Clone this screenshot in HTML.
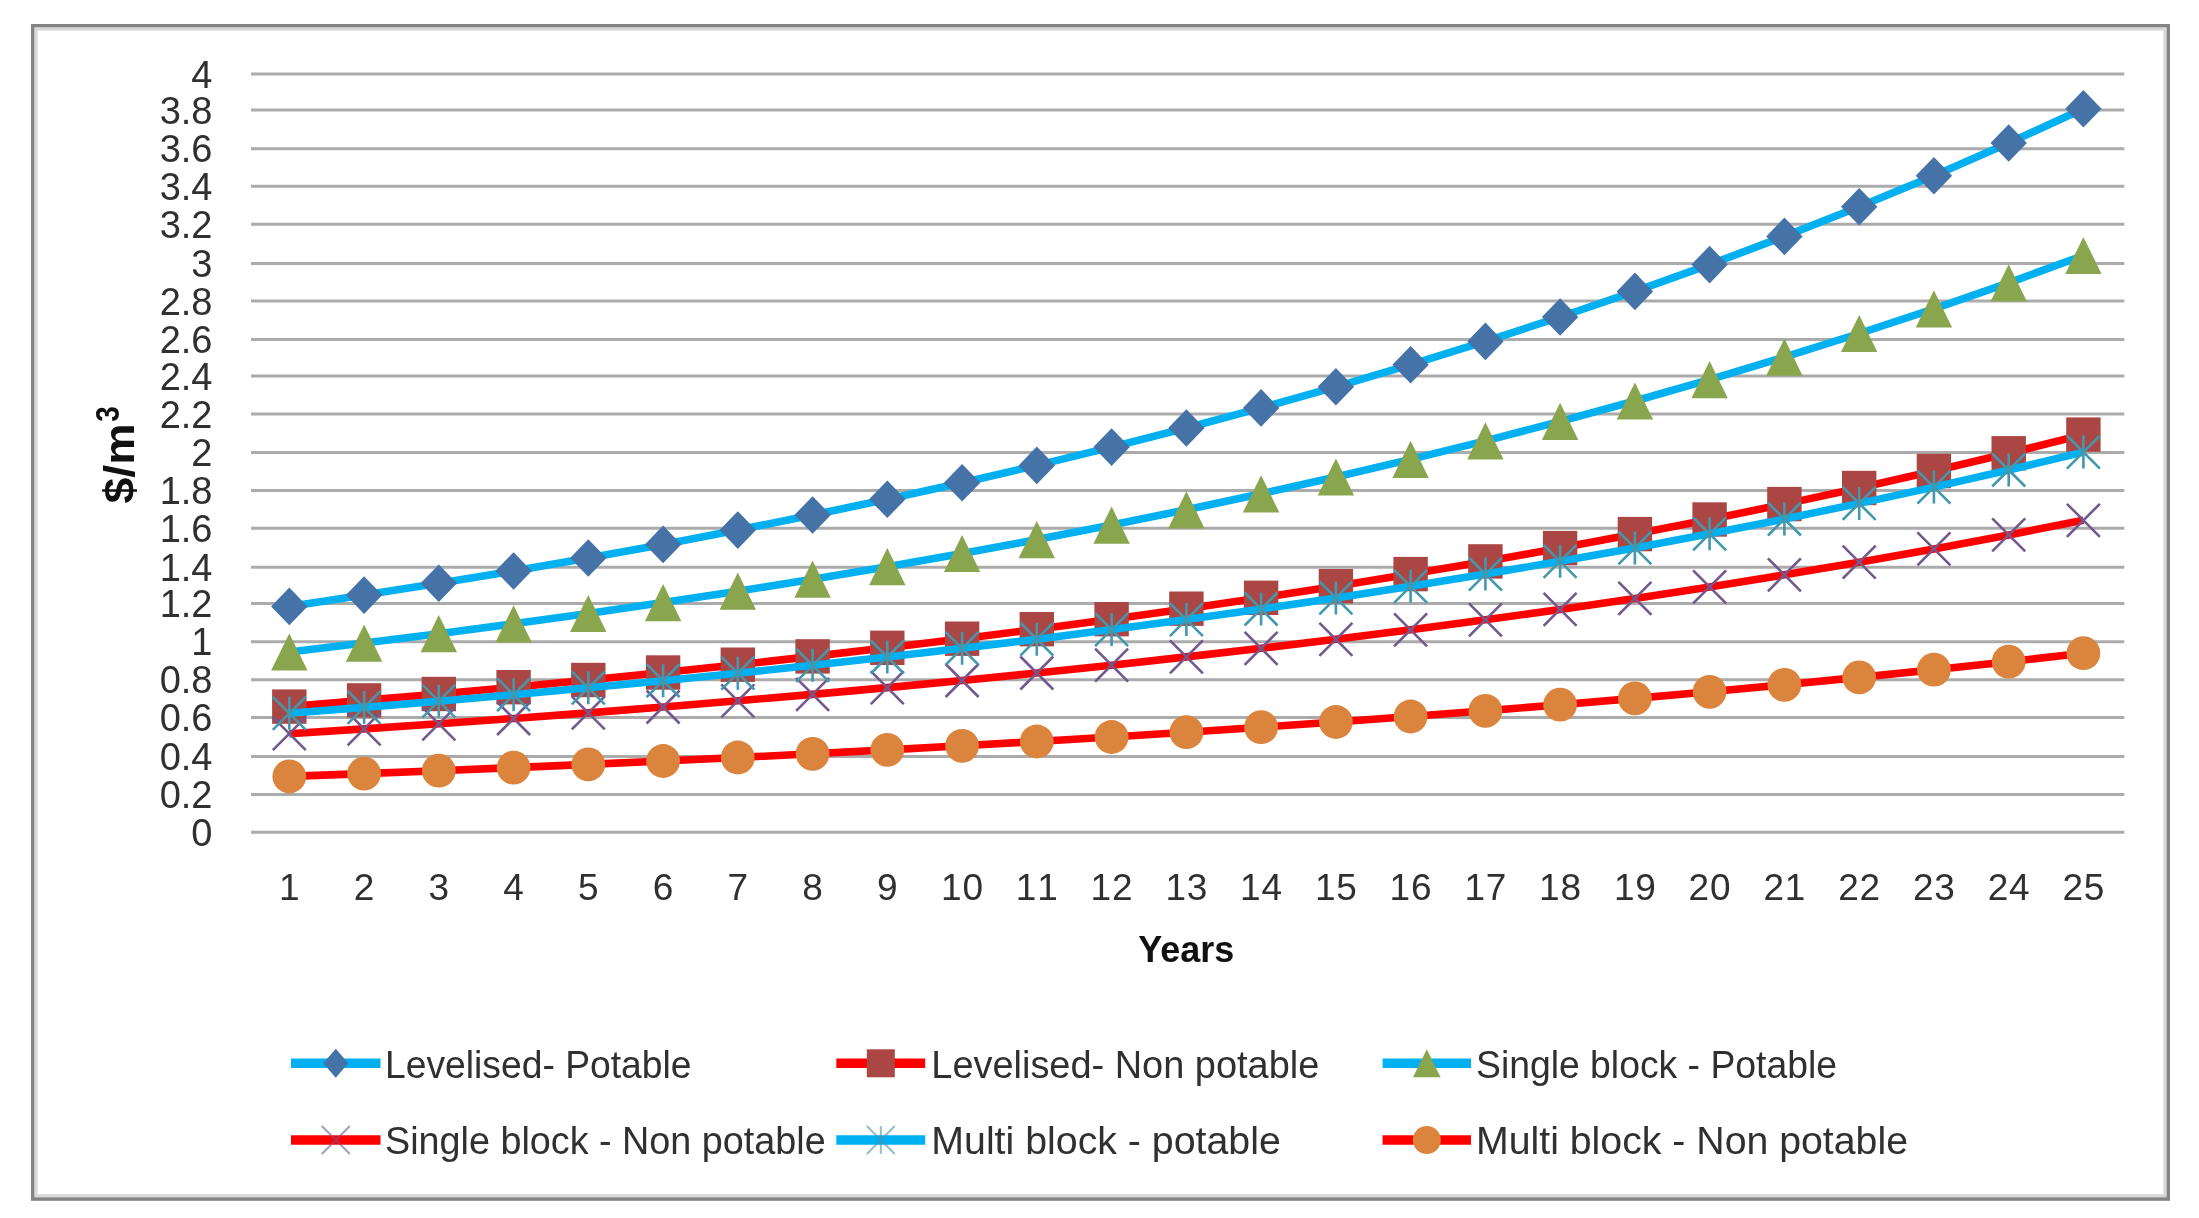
<!DOCTYPE html>
<html><head><meta charset="utf-8"><title>Chart</title>
<style>
html,body{margin:0;padding:0;background:#fff;}
svg{display:block;filter:blur(0.7px);}
text{font-family:"Liberation Sans",sans-serif;fill:#303030;}
.b{font-weight:bold;fill:#111;}
</style></head><body>
<svg width="2199" height="1218" viewBox="0 0 2199 1218">
<rect x="0" y="0" width="2199" height="1218" fill="#fff"/>
<rect x="32.8" y="25.8" width="2135.4" height="1173.2" fill="none" stroke="#848484" stroke-width="3.6"/>
<rect x="36.1" y="29.1" width="2128.8" height="1166.6" fill="none" stroke="#d8d8d8" stroke-width="3"/>

<line x1="251.0" y1="832.3" x2="2124.3" y2="832.3" stroke="#ababab" stroke-width="3"/>
<line x1="251.0" y1="794.4" x2="2124.3" y2="794.4" stroke="#ababab" stroke-width="3"/>
<line x1="251.0" y1="756.4" x2="2124.3" y2="756.4" stroke="#ababab" stroke-width="3"/>
<line x1="251.0" y1="717.6" x2="2124.3" y2="717.6" stroke="#ababab" stroke-width="3"/>
<line x1="251.0" y1="679.7" x2="2124.3" y2="679.7" stroke="#ababab" stroke-width="3"/>
<line x1="251.0" y1="641.7" x2="2124.3" y2="641.7" stroke="#ababab" stroke-width="3"/>
<line x1="251.0" y1="603.4" x2="2124.3" y2="603.4" stroke="#ababab" stroke-width="3"/>
<line x1="251.0" y1="567.3" x2="2124.3" y2="567.3" stroke="#ababab" stroke-width="3"/>
<line x1="251.0" y1="528.3" x2="2124.3" y2="528.3" stroke="#ababab" stroke-width="3"/>
<line x1="251.0" y1="490.6" x2="2124.3" y2="490.6" stroke="#ababab" stroke-width="3"/>
<line x1="251.0" y1="452.6" x2="2124.3" y2="452.6" stroke="#ababab" stroke-width="3"/>
<line x1="251.0" y1="413.9" x2="2124.3" y2="413.9" stroke="#ababab" stroke-width="3"/>
<line x1="251.0" y1="376.0" x2="2124.3" y2="376.0" stroke="#ababab" stroke-width="3"/>
<line x1="251.0" y1="339.5" x2="2124.3" y2="339.5" stroke="#ababab" stroke-width="3"/>
<line x1="251.0" y1="300.9" x2="2124.3" y2="300.9" stroke="#ababab" stroke-width="3"/>
<line x1="251.0" y1="263.5" x2="2124.3" y2="263.5" stroke="#ababab" stroke-width="3"/>
<line x1="251.0" y1="224.2" x2="2124.3" y2="224.2" stroke="#ababab" stroke-width="3"/>
<line x1="251.0" y1="186.3" x2="2124.3" y2="186.3" stroke="#ababab" stroke-width="3"/>
<line x1="251.0" y1="148.7" x2="2124.3" y2="148.7" stroke="#ababab" stroke-width="3"/>
<line x1="251.0" y1="110.1" x2="2124.3" y2="110.1" stroke="#ababab" stroke-width="3"/>
<line x1="251.0" y1="74.1" x2="2124.3" y2="74.1" stroke="#ababab" stroke-width="3"/>
<text x="212.5" y="845.9" font-size="38" text-anchor="end">0</text>
<text x="212.5" y="808.0" font-size="38" text-anchor="end">0.2</text>
<text x="212.5" y="770.0" font-size="38" text-anchor="end">0.4</text>
<text x="212.5" y="731.2" font-size="38" text-anchor="end">0.6</text>
<text x="212.5" y="693.3" font-size="38" text-anchor="end">0.8</text>
<text x="212.5" y="655.3" font-size="38" text-anchor="end">1</text>
<text x="212.5" y="617.0" font-size="38" text-anchor="end">1.2</text>
<text x="212.5" y="580.9" font-size="38" text-anchor="end">1.4</text>
<text x="212.5" y="541.9" font-size="38" text-anchor="end">1.6</text>
<text x="212.5" y="504.2" font-size="38" text-anchor="end">1.8</text>
<text x="212.5" y="466.2" font-size="38" text-anchor="end">2</text>
<text x="212.5" y="427.5" font-size="38" text-anchor="end">2.2</text>
<text x="212.5" y="389.6" font-size="38" text-anchor="end">2.4</text>
<text x="212.5" y="353.1" font-size="38" text-anchor="end">2.6</text>
<text x="212.5" y="314.5" font-size="38" text-anchor="end">2.8</text>
<text x="212.5" y="277.1" font-size="38" text-anchor="end">3</text>
<text x="212.5" y="237.8" font-size="38" text-anchor="end">3.2</text>
<text x="212.5" y="199.9" font-size="38" text-anchor="end">3.4</text>
<text x="212.5" y="162.3" font-size="38" text-anchor="end">3.6</text>
<text x="212.5" y="123.7" font-size="38" text-anchor="end">3.8</text>
<text x="212.5" y="87.7" font-size="38" text-anchor="end">4</text>
<text x="289.3" y="900.3" font-size="37" text-anchor="middle" style="font-kerning:none">1</text>
<text x="364.1" y="900.3" font-size="37" text-anchor="middle" style="font-kerning:none">2</text>
<text x="438.8" y="900.3" font-size="37" text-anchor="middle" style="font-kerning:none">3</text>
<text x="513.6" y="900.3" font-size="37" text-anchor="middle" style="font-kerning:none">4</text>
<text x="588.3" y="900.3" font-size="37" text-anchor="middle" style="font-kerning:none">5</text>
<text x="663.1" y="900.3" font-size="37" text-anchor="middle" style="font-kerning:none">6</text>
<text x="737.8" y="900.3" font-size="37" text-anchor="middle" style="font-kerning:none">7</text>
<text x="812.6" y="900.3" font-size="37" text-anchor="middle" style="font-kerning:none">8</text>
<text x="887.3" y="900.3" font-size="37" text-anchor="middle" style="font-kerning:none">9</text>
<text x="962.1" y="900.3" font-size="37" text-anchor="middle" style="font-kerning:none" textLength="42" lengthAdjust="spacing">10</text>
<text x="1036.8" y="900.3" font-size="37" text-anchor="middle" style="font-kerning:none" textLength="42" lengthAdjust="spacing">11</text>
<text x="1111.6" y="900.3" font-size="37" text-anchor="middle" style="font-kerning:none" textLength="42" lengthAdjust="spacing">12</text>
<text x="1186.4" y="900.3" font-size="37" text-anchor="middle" style="font-kerning:none" textLength="42" lengthAdjust="spacing">13</text>
<text x="1261.1" y="900.3" font-size="37" text-anchor="middle" style="font-kerning:none" textLength="42" lengthAdjust="spacing">14</text>
<text x="1335.9" y="900.3" font-size="37" text-anchor="middle" style="font-kerning:none" textLength="42" lengthAdjust="spacing">15</text>
<text x="1410.6" y="900.3" font-size="37" text-anchor="middle" style="font-kerning:none" textLength="42" lengthAdjust="spacing">16</text>
<text x="1485.4" y="900.3" font-size="37" text-anchor="middle" style="font-kerning:none" textLength="42" lengthAdjust="spacing">17</text>
<text x="1560.1" y="900.3" font-size="37" text-anchor="middle" style="font-kerning:none" textLength="42" lengthAdjust="spacing">18</text>
<text x="1634.9" y="900.3" font-size="37" text-anchor="middle" style="font-kerning:none" textLength="42" lengthAdjust="spacing">19</text>
<text x="1709.6" y="900.3" font-size="37" text-anchor="middle" style="font-kerning:none" textLength="42" lengthAdjust="spacing">20</text>
<text x="1784.4" y="900.3" font-size="37" text-anchor="middle" style="font-kerning:none" textLength="42" lengthAdjust="spacing">21</text>
<text x="1859.2" y="900.3" font-size="37" text-anchor="middle" style="font-kerning:none" textLength="42" lengthAdjust="spacing">22</text>
<text x="1933.9" y="900.3" font-size="37" text-anchor="middle" style="font-kerning:none" textLength="42" lengthAdjust="spacing">23</text>
<text x="2008.7" y="900.3" font-size="37" text-anchor="middle" style="font-kerning:none" textLength="42" lengthAdjust="spacing">24</text>
<text x="2083.4" y="900.3" font-size="37" text-anchor="middle" style="font-kerning:none" textLength="42" lengthAdjust="spacing">25</text>
<text class="b" x="1186.3" y="962.3" font-size="36.5" text-anchor="middle" textLength="96" lengthAdjust="spacingAndGlyphs">Years</text>
<text class="b" transform="translate(134.3,503.5) rotate(-90)" font-size="42" textLength="80" lengthAdjust="spacingAndGlyphs">$/m</text>
<text class="b" transform="translate(119,421.8) rotate(-90)" font-size="33" textLength="15.5" lengthAdjust="spacingAndGlyphs">3</text>
<path d="M289.3 606.4L364.1 595.1L438.8 583.3L513.6 571.0L588.3 558.0L663.1 544.4L737.8 530.1L812.6 515.0L887.3 499.3L962.1 482.7L1036.8 465.4L1111.6 447.1L1186.4 428.0L1261.1 407.9L1335.9 386.8L1410.6 364.7L1485.4 341.4L1560.1 317.0L1634.9 291.4L1709.6 264.6L1784.4 236.4L1859.2 206.7L1933.9 175.7L2008.7 143.0L2083.4 108.8" fill="none" stroke="#00B0F0" stroke-width="7.6" stroke-linejoin="round"/>
<path d="M289.3 587.6L307.5 606.4L289.3 625.2L271.1 606.4Z" fill="#4572A7"/>
<path d="M364.1 576.3L382.3 595.1L364.1 613.9L345.9 595.1Z" fill="#4572A7"/>
<path d="M438.8 564.5L457.0 583.3L438.8 602.1L420.6 583.3Z" fill="#4572A7"/>
<path d="M513.6 552.2L531.8 571.0L513.6 589.8L495.4 571.0Z" fill="#4572A7"/>
<path d="M588.3 539.2L606.5 558.0L588.3 576.8L570.1 558.0Z" fill="#4572A7"/>
<path d="M663.1 525.6L681.3 544.4L663.1 563.2L644.9 544.4Z" fill="#4572A7"/>
<path d="M737.8 511.3L756.0 530.1L737.8 548.9L719.6 530.1Z" fill="#4572A7"/>
<path d="M812.6 496.2L830.8 515.0L812.6 533.8L794.4 515.0Z" fill="#4572A7"/>
<path d="M887.3 480.5L905.5 499.3L887.3 518.1L869.1 499.3Z" fill="#4572A7"/>
<path d="M962.1 463.9L980.3 482.7L962.1 501.5L943.9 482.7Z" fill="#4572A7"/>
<path d="M1036.8 446.6L1055.0 465.4L1036.8 484.2L1018.6 465.4Z" fill="#4572A7"/>
<path d="M1111.6 428.3L1129.8 447.1L1111.6 465.9L1093.4 447.1Z" fill="#4572A7"/>
<path d="M1186.4 409.2L1204.6 428.0L1186.4 446.8L1168.2 428.0Z" fill="#4572A7"/>
<path d="M1261.1 389.1L1279.3 407.9L1261.1 426.7L1242.9 407.9Z" fill="#4572A7"/>
<path d="M1335.9 368.0L1354.1 386.8L1335.9 405.6L1317.7 386.8Z" fill="#4572A7"/>
<path d="M1410.6 345.9L1428.8 364.7L1410.6 383.5L1392.4 364.7Z" fill="#4572A7"/>
<path d="M1485.4 322.6L1503.6 341.4L1485.4 360.2L1467.2 341.4Z" fill="#4572A7"/>
<path d="M1560.1 298.2L1578.3 317.0L1560.1 335.8L1541.9 317.0Z" fill="#4572A7"/>
<path d="M1634.9 272.6L1653.1 291.4L1634.9 310.2L1616.7 291.4Z" fill="#4572A7"/>
<path d="M1709.6 245.8L1727.8 264.6L1709.6 283.4L1691.4 264.6Z" fill="#4572A7"/>
<path d="M1784.4 217.6L1802.6 236.4L1784.4 255.2L1766.2 236.4Z" fill="#4572A7"/>
<path d="M1859.2 187.9L1877.4 206.7L1859.2 225.5L1841.0 206.7Z" fill="#4572A7"/>
<path d="M1933.9 156.9L1952.1 175.7L1933.9 194.5L1915.7 175.7Z" fill="#4572A7"/>
<path d="M2008.7 124.2L2026.9 143.0L2008.7 161.8L1990.5 143.0Z" fill="#4572A7"/>
<path d="M2083.4 90.0L2101.6 108.8L2083.4 127.6L2065.2 108.8Z" fill="#4572A7"/>
<path d="M289.3 706.6L364.1 700.4L438.8 694.0L513.6 687.2L588.3 680.0L663.1 672.5L737.8 664.7L812.6 656.4L887.3 647.8L962.1 638.7L1036.8 629.2L1111.6 619.2L1186.4 608.7L1261.1 597.8L1335.9 586.2L1410.6 574.1L1485.4 561.4L1560.1 548.1L1634.9 534.1L1709.6 519.5L1784.4 504.1L1859.2 488.0L1933.9 471.0L2008.7 453.3L2083.4 434.6" fill="none" stroke="#FF0000" stroke-width="7.6" stroke-linejoin="round"/>
<rect x="272.1" y="689.4" width="34.4" height="34.4" fill="#AA4643"/>
<rect x="346.9" y="683.2" width="34.4" height="34.4" fill="#AA4643"/>
<rect x="421.6" y="676.8" width="34.4" height="34.4" fill="#AA4643"/>
<rect x="496.4" y="670.0" width="34.4" height="34.4" fill="#AA4643"/>
<rect x="571.1" y="662.8" width="34.4" height="34.4" fill="#AA4643"/>
<rect x="645.9" y="655.3" width="34.4" height="34.4" fill="#AA4643"/>
<rect x="720.6" y="647.5" width="34.4" height="34.4" fill="#AA4643"/>
<rect x="795.4" y="639.2" width="34.4" height="34.4" fill="#AA4643"/>
<rect x="870.1" y="630.6" width="34.4" height="34.4" fill="#AA4643"/>
<rect x="944.9" y="621.5" width="34.4" height="34.4" fill="#AA4643"/>
<rect x="1019.6" y="612.0" width="34.4" height="34.4" fill="#AA4643"/>
<rect x="1094.4" y="602.0" width="34.4" height="34.4" fill="#AA4643"/>
<rect x="1169.2" y="591.5" width="34.4" height="34.4" fill="#AA4643"/>
<rect x="1243.9" y="580.6" width="34.4" height="34.4" fill="#AA4643"/>
<rect x="1318.7" y="569.0" width="34.4" height="34.4" fill="#AA4643"/>
<rect x="1393.4" y="556.9" width="34.4" height="34.4" fill="#AA4643"/>
<rect x="1468.2" y="544.2" width="34.4" height="34.4" fill="#AA4643"/>
<rect x="1542.9" y="530.9" width="34.4" height="34.4" fill="#AA4643"/>
<rect x="1617.7" y="516.9" width="34.4" height="34.4" fill="#AA4643"/>
<rect x="1692.4" y="502.3" width="34.4" height="34.4" fill="#AA4643"/>
<rect x="1767.2" y="486.9" width="34.4" height="34.4" fill="#AA4643"/>
<rect x="1842.0" y="470.8" width="34.4" height="34.4" fill="#AA4643"/>
<rect x="1916.7" y="453.8" width="34.4" height="34.4" fill="#AA4643"/>
<rect x="1991.5" y="436.1" width="34.4" height="34.4" fill="#AA4643"/>
<rect x="2066.2" y="417.4" width="34.4" height="34.4" fill="#AA4643"/>
<path d="M289.3 652.0L364.1 643.1L438.8 633.7L513.6 623.8L588.3 613.5L663.1 602.6L737.8 591.2L812.6 579.2L887.3 566.7L962.1 553.5L1036.8 539.6L1111.6 525.1L1186.4 509.8L1261.1 493.8L1335.9 477.0L1410.6 459.4L1485.4 440.9L1560.1 421.4L1634.9 401.0L1709.6 379.6L1784.4 357.1L1859.2 333.5L1933.9 308.8L2008.7 282.8L2083.4 255.5" fill="none" stroke="#00B0F0" stroke-width="7.6" stroke-linejoin="round"/>
<path d="M289.3 633.4L307.5 670.6L271.1 670.6Z" fill="#89A54E"/>
<path d="M364.1 624.5L382.3 661.7L345.9 661.7Z" fill="#89A54E"/>
<path d="M438.8 615.1L457.0 652.3L420.6 652.3Z" fill="#89A54E"/>
<path d="M513.6 605.2L531.8 642.4L495.4 642.4Z" fill="#89A54E"/>
<path d="M588.3 594.9L606.5 632.1L570.1 632.1Z" fill="#89A54E"/>
<path d="M663.1 584.0L681.3 621.2L644.9 621.2Z" fill="#89A54E"/>
<path d="M737.8 572.6L756.0 609.8L719.6 609.8Z" fill="#89A54E"/>
<path d="M812.6 560.6L830.8 597.8L794.4 597.8Z" fill="#89A54E"/>
<path d="M887.3 548.1L905.5 585.3L869.1 585.3Z" fill="#89A54E"/>
<path d="M962.1 534.9L980.3 572.1L943.9 572.1Z" fill="#89A54E"/>
<path d="M1036.8 521.0L1055.0 558.2L1018.6 558.2Z" fill="#89A54E"/>
<path d="M1111.6 506.5L1129.8 543.7L1093.4 543.7Z" fill="#89A54E"/>
<path d="M1186.4 491.2L1204.6 528.4L1168.2 528.4Z" fill="#89A54E"/>
<path d="M1261.1 475.2L1279.3 512.4L1242.9 512.4Z" fill="#89A54E"/>
<path d="M1335.9 458.4L1354.1 495.6L1317.7 495.6Z" fill="#89A54E"/>
<path d="M1410.6 440.8L1428.8 478.0L1392.4 478.0Z" fill="#89A54E"/>
<path d="M1485.4 422.3L1503.6 459.5L1467.2 459.5Z" fill="#89A54E"/>
<path d="M1560.1 402.8L1578.3 440.0L1541.9 440.0Z" fill="#89A54E"/>
<path d="M1634.9 382.4L1653.1 419.6L1616.7 419.6Z" fill="#89A54E"/>
<path d="M1709.6 361.0L1727.8 398.2L1691.4 398.2Z" fill="#89A54E"/>
<path d="M1784.4 338.5L1802.6 375.7L1766.2 375.7Z" fill="#89A54E"/>
<path d="M1859.2 314.9L1877.4 352.1L1841.0 352.1Z" fill="#89A54E"/>
<path d="M1933.9 290.2L1952.1 327.4L1915.7 327.4Z" fill="#89A54E"/>
<path d="M2008.7 264.2L2026.9 301.4L1990.5 301.4Z" fill="#89A54E"/>
<path d="M2083.4 236.9L2101.6 274.1L2065.2 274.1Z" fill="#89A54E"/>
<path d="M289.3 733.7L364.1 728.9L438.8 723.8L513.6 718.5L588.3 712.9L663.1 707.0L737.8 700.8L812.6 694.4L887.3 687.6L962.1 680.5L1036.8 673.0L1111.6 665.2L1186.4 656.9L1261.1 648.3L1335.9 639.3L1410.6 629.8L1485.4 619.8L1560.1 609.4L1634.9 598.4L1709.6 586.9L1784.4 574.8L1859.2 562.2L1933.9 548.9L2008.7 534.9L2083.4 520.3" fill="none" stroke="#FF0000" stroke-width="7.6" stroke-linejoin="round"/>
<path d="M272.8 717.2L305.8 750.2M272.8 750.2L305.8 717.2" stroke="#71588F" stroke-width="2.6" fill="none"/>
<path d="M347.6 712.4L380.6 745.4M347.6 745.4L380.6 712.4" stroke="#71588F" stroke-width="2.6" fill="none"/>
<path d="M422.3 707.3L455.3 740.3M422.3 740.3L455.3 707.3" stroke="#71588F" stroke-width="2.6" fill="none"/>
<path d="M497.1 702.0L530.1 735.0M497.1 735.0L530.1 702.0" stroke="#71588F" stroke-width="2.6" fill="none"/>
<path d="M571.8 696.4L604.8 729.4M571.8 729.4L604.8 696.4" stroke="#71588F" stroke-width="2.6" fill="none"/>
<path d="M646.6 690.5L679.6 723.5M646.6 723.5L679.6 690.5" stroke="#71588F" stroke-width="2.6" fill="none"/>
<path d="M721.3 684.3L754.3 717.3M721.3 717.3L754.3 684.3" stroke="#71588F" stroke-width="2.6" fill="none"/>
<path d="M796.1 677.9L829.1 710.9M796.1 710.9L829.1 677.9" stroke="#71588F" stroke-width="2.6" fill="none"/>
<path d="M870.8 671.1L903.8 704.1M870.8 704.1L903.8 671.1" stroke="#71588F" stroke-width="2.6" fill="none"/>
<path d="M945.6 664.0L978.6 697.0M945.6 697.0L978.6 664.0" stroke="#71588F" stroke-width="2.6" fill="none"/>
<path d="M1020.3 656.5L1053.3 689.5M1020.3 689.5L1053.3 656.5" stroke="#71588F" stroke-width="2.6" fill="none"/>
<path d="M1095.1 648.7L1128.1 681.7M1095.1 681.7L1128.1 648.7" stroke="#71588F" stroke-width="2.6" fill="none"/>
<path d="M1169.9 640.4L1202.9 673.4M1169.9 673.4L1202.9 640.4" stroke="#71588F" stroke-width="2.6" fill="none"/>
<path d="M1244.6 631.8L1277.6 664.8M1244.6 664.8L1277.6 631.8" stroke="#71588F" stroke-width="2.6" fill="none"/>
<path d="M1319.4 622.8L1352.4 655.8M1319.4 655.8L1352.4 622.8" stroke="#71588F" stroke-width="2.6" fill="none"/>
<path d="M1394.1 613.3L1427.1 646.3M1394.1 646.3L1427.1 613.3" stroke="#71588F" stroke-width="2.6" fill="none"/>
<path d="M1468.9 603.3L1501.9 636.3M1468.9 636.3L1501.9 603.3" stroke="#71588F" stroke-width="2.6" fill="none"/>
<path d="M1543.6 592.9L1576.6 625.9M1543.6 625.9L1576.6 592.9" stroke="#71588F" stroke-width="2.6" fill="none"/>
<path d="M1618.4 581.9L1651.4 614.9M1618.4 614.9L1651.4 581.9" stroke="#71588F" stroke-width="2.6" fill="none"/>
<path d="M1693.1 570.4L1726.1 603.4M1693.1 603.4L1726.1 570.4" stroke="#71588F" stroke-width="2.6" fill="none"/>
<path d="M1767.9 558.3L1800.9 591.3M1767.9 591.3L1800.9 558.3" stroke="#71588F" stroke-width="2.6" fill="none"/>
<path d="M1842.7 545.7L1875.7 578.7M1842.7 578.7L1875.7 545.7" stroke="#71588F" stroke-width="2.6" fill="none"/>
<path d="M1917.4 532.4L1950.4 565.4M1917.4 565.4L1950.4 532.4" stroke="#71588F" stroke-width="2.6" fill="none"/>
<path d="M1992.2 518.4L2025.2 551.4M1992.2 551.4L2025.2 518.4" stroke="#71588F" stroke-width="2.6" fill="none"/>
<path d="M2066.9 503.8L2099.9 536.8M2066.9 536.8L2099.9 503.8" stroke="#71588F" stroke-width="2.6" fill="none"/>
<path d="M289.3 713.3L364.1 707.4L438.8 701.2L513.6 694.7L588.3 687.8L663.1 680.7L737.8 673.2L812.6 665.3L887.3 657.0L962.1 648.3L1036.8 639.2L1111.6 629.6L1186.4 619.6L1261.1 609.0L1335.9 597.9L1410.6 586.3L1485.4 574.1L1560.1 561.3L1634.9 547.9L1709.6 533.8L1784.4 519.0L1859.2 503.4L1933.9 487.1L2008.7 470.0L2083.4 452.1" fill="none" stroke="#00B0F0" stroke-width="7.6" stroke-linejoin="round"/>
<path d="M272.8 696.8L305.8 729.8M272.8 729.8L305.8 696.8M289.3 696.8L289.3 729.8" stroke="#4198AF" stroke-width="2.6" fill="none"/>
<path d="M347.6 690.9L380.6 723.9M347.6 723.9L380.6 690.9M364.1 690.9L364.1 723.9" stroke="#4198AF" stroke-width="2.6" fill="none"/>
<path d="M422.3 684.7L455.3 717.7M422.3 717.7L455.3 684.7M438.8 684.7L438.8 717.7" stroke="#4198AF" stroke-width="2.6" fill="none"/>
<path d="M497.1 678.2L530.1 711.2M497.1 711.2L530.1 678.2M513.6 678.2L513.6 711.2" stroke="#4198AF" stroke-width="2.6" fill="none"/>
<path d="M571.8 671.3L604.8 704.3M571.8 704.3L604.8 671.3M588.3 671.3L588.3 704.3" stroke="#4198AF" stroke-width="2.6" fill="none"/>
<path d="M646.6 664.2L679.6 697.2M646.6 697.2L679.6 664.2M663.1 664.2L663.1 697.2" stroke="#4198AF" stroke-width="2.6" fill="none"/>
<path d="M721.3 656.7L754.3 689.7M721.3 689.7L754.3 656.7M737.8 656.7L737.8 689.7" stroke="#4198AF" stroke-width="2.6" fill="none"/>
<path d="M796.1 648.8L829.1 681.8M796.1 681.8L829.1 648.8M812.6 648.8L812.6 681.8" stroke="#4198AF" stroke-width="2.6" fill="none"/>
<path d="M870.8 640.5L903.8 673.5M870.8 673.5L903.8 640.5M887.3 640.5L887.3 673.5" stroke="#4198AF" stroke-width="2.6" fill="none"/>
<path d="M945.6 631.8L978.6 664.8M945.6 664.8L978.6 631.8M962.1 631.8L962.1 664.8" stroke="#4198AF" stroke-width="2.6" fill="none"/>
<path d="M1020.3 622.7L1053.3 655.7M1020.3 655.7L1053.3 622.7M1036.8 622.7L1036.8 655.7" stroke="#4198AF" stroke-width="2.6" fill="none"/>
<path d="M1095.1 613.1L1128.1 646.1M1095.1 646.1L1128.1 613.1M1111.6 613.1L1111.6 646.1" stroke="#4198AF" stroke-width="2.6" fill="none"/>
<path d="M1169.9 603.1L1202.9 636.1M1169.9 636.1L1202.9 603.1M1186.4 603.1L1186.4 636.1" stroke="#4198AF" stroke-width="2.6" fill="none"/>
<path d="M1244.6 592.5L1277.6 625.5M1244.6 625.5L1277.6 592.5M1261.1 592.5L1261.1 625.5" stroke="#4198AF" stroke-width="2.6" fill="none"/>
<path d="M1319.4 581.4L1352.4 614.4M1319.4 614.4L1352.4 581.4M1335.9 581.4L1335.9 614.4" stroke="#4198AF" stroke-width="2.6" fill="none"/>
<path d="M1394.1 569.8L1427.1 602.8M1394.1 602.8L1427.1 569.8M1410.6 569.8L1410.6 602.8" stroke="#4198AF" stroke-width="2.6" fill="none"/>
<path d="M1468.9 557.6L1501.9 590.6M1468.9 590.6L1501.9 557.6M1485.4 557.6L1485.4 590.6" stroke="#4198AF" stroke-width="2.6" fill="none"/>
<path d="M1543.6 544.8L1576.6 577.8M1543.6 577.8L1576.6 544.8M1560.1 544.8L1560.1 577.8" stroke="#4198AF" stroke-width="2.6" fill="none"/>
<path d="M1618.4 531.4L1651.4 564.4M1618.4 564.4L1651.4 531.4M1634.9 531.4L1634.9 564.4" stroke="#4198AF" stroke-width="2.6" fill="none"/>
<path d="M1693.1 517.3L1726.1 550.3M1693.1 550.3L1726.1 517.3M1709.6 517.3L1709.6 550.3" stroke="#4198AF" stroke-width="2.6" fill="none"/>
<path d="M1767.9 502.5L1800.9 535.5M1767.9 535.5L1800.9 502.5M1784.4 502.5L1784.4 535.5" stroke="#4198AF" stroke-width="2.6" fill="none"/>
<path d="M1842.7 486.9L1875.7 519.9M1842.7 519.9L1875.7 486.9M1859.2 486.9L1859.2 519.9" stroke="#4198AF" stroke-width="2.6" fill="none"/>
<path d="M1917.4 470.6L1950.4 503.6M1917.4 503.6L1950.4 470.6M1933.9 470.6L1933.9 503.6" stroke="#4198AF" stroke-width="2.6" fill="none"/>
<path d="M1992.2 453.5L2025.2 486.5M1992.2 486.5L2025.2 453.5M2008.7 453.5L2008.7 486.5" stroke="#4198AF" stroke-width="2.6" fill="none"/>
<path d="M2066.9 435.6L2099.9 468.6M2066.9 468.6L2099.9 435.6M2083.4 435.6L2083.4 468.6" stroke="#4198AF" stroke-width="2.6" fill="none"/>
<path d="M289.3 776.4L364.1 773.6L438.8 770.7L513.6 767.6L588.3 764.4L663.1 761.0L737.8 757.5L812.6 753.8L887.3 749.9L962.1 745.8L1036.8 741.5L1111.6 737.0L1186.4 732.2L1261.1 727.2L1335.9 722.0L1410.6 716.5L1485.4 710.8L1560.1 704.7L1634.9 698.4L1709.6 691.8L1784.4 684.8L1859.2 677.4L1933.9 669.7L2008.7 661.7L2083.4 653.2" fill="none" stroke="#FF0000" stroke-width="7.6" stroke-linejoin="round"/>
<circle cx="289.3" cy="776.4" r="16.9" fill="#DB843D"/>
<circle cx="364.1" cy="773.6" r="16.9" fill="#DB843D"/>
<circle cx="438.8" cy="770.7" r="16.9" fill="#DB843D"/>
<circle cx="513.6" cy="767.6" r="16.9" fill="#DB843D"/>
<circle cx="588.3" cy="764.4" r="16.9" fill="#DB843D"/>
<circle cx="663.1" cy="761.0" r="16.9" fill="#DB843D"/>
<circle cx="737.8" cy="757.5" r="16.9" fill="#DB843D"/>
<circle cx="812.6" cy="753.8" r="16.9" fill="#DB843D"/>
<circle cx="887.3" cy="749.9" r="16.9" fill="#DB843D"/>
<circle cx="962.1" cy="745.8" r="16.9" fill="#DB843D"/>
<circle cx="1036.8" cy="741.5" r="16.9" fill="#DB843D"/>
<circle cx="1111.6" cy="737.0" r="16.9" fill="#DB843D"/>
<circle cx="1186.4" cy="732.2" r="16.9" fill="#DB843D"/>
<circle cx="1261.1" cy="727.2" r="16.9" fill="#DB843D"/>
<circle cx="1335.9" cy="722.0" r="16.9" fill="#DB843D"/>
<circle cx="1410.6" cy="716.5" r="16.9" fill="#DB843D"/>
<circle cx="1485.4" cy="710.8" r="16.9" fill="#DB843D"/>
<circle cx="1560.1" cy="704.7" r="16.9" fill="#DB843D"/>
<circle cx="1634.9" cy="698.4" r="16.9" fill="#DB843D"/>
<circle cx="1709.6" cy="691.8" r="16.9" fill="#DB843D"/>
<circle cx="1784.4" cy="684.8" r="16.9" fill="#DB843D"/>
<circle cx="1859.2" cy="677.4" r="16.9" fill="#DB843D"/>
<circle cx="1933.9" cy="669.7" r="16.9" fill="#DB843D"/>
<circle cx="2008.7" cy="661.7" r="16.9" fill="#DB843D"/>
<circle cx="2083.4" cy="653.2" r="16.9" fill="#DB843D"/>
<line x1="291" y1="1063.3" x2="380.5" y2="1063.3" stroke="#00B0F0" stroke-width="9.5"/>
<path d="M335.8 1048.8L348.2 1063.3L335.8 1077.8L323.2 1063.3Z" fill="#4572A7"/>
<text x="385" y="1078" font-size="38" textLength="306.5" lengthAdjust="spacingAndGlyphs">Levelised- Potable</text>
<line x1="836.3" y1="1063.3" x2="925.2" y2="1063.3" stroke="#FF0000" stroke-width="9.5"/>
<rect x="866.8" y="1049.3" width="28.0" height="28.0" fill="#AA4643"/>
<text x="931.3" y="1078" font-size="38" textLength="388" lengthAdjust="spacingAndGlyphs">Levelised- Non potable</text>
<line x1="1382.6" y1="1063.3" x2="1471" y2="1063.3" stroke="#00B0F0" stroke-width="9.5"/>
<path d="M1426.8 1049.3L1440.6 1077.3L1413.0 1077.3Z" fill="#89A54E"/>
<text x="1476" y="1078" font-size="38" textLength="361" lengthAdjust="spacingAndGlyphs">Single block - Potable</text>
<line x1="291" y1="1140.0" x2="380.5" y2="1140.0" stroke="#FF0000" stroke-width="9.5"/>
<path d="M321.8 1126.0L349.8 1154.0M321.8 1154.0L349.8 1126.0" stroke="#71588F" stroke-width="2.0" stroke-opacity="0.6" fill="none"/>
<text x="385" y="1154" font-size="38" textLength="440.7" lengthAdjust="spacingAndGlyphs">Single block - Non potable</text>
<line x1="836.3" y1="1140.0" x2="925.2" y2="1140.0" stroke="#00B0F0" stroke-width="9.5"/>
<path d="M866.8 1126.0L894.8 1154.0M866.8 1154.0L894.8 1126.0M880.8 1126.0L880.8 1154.0" stroke="#4198AF" stroke-width="2.0" stroke-opacity="0.6" fill="none"/>
<text x="931.3" y="1154" font-size="38" textLength="349.5" lengthAdjust="spacingAndGlyphs">Multi block - potable</text>
<line x1="1382.6" y1="1140.0" x2="1471" y2="1140.0" stroke="#FF0000" stroke-width="9.5"/>
<circle cx="1426.8" cy="1140.0" r="14.0" fill="#DB843D"/>
<text x="1476" y="1154" font-size="38" textLength="432" lengthAdjust="spacingAndGlyphs">Multi block - Non potable</text>
</svg></body></html>
